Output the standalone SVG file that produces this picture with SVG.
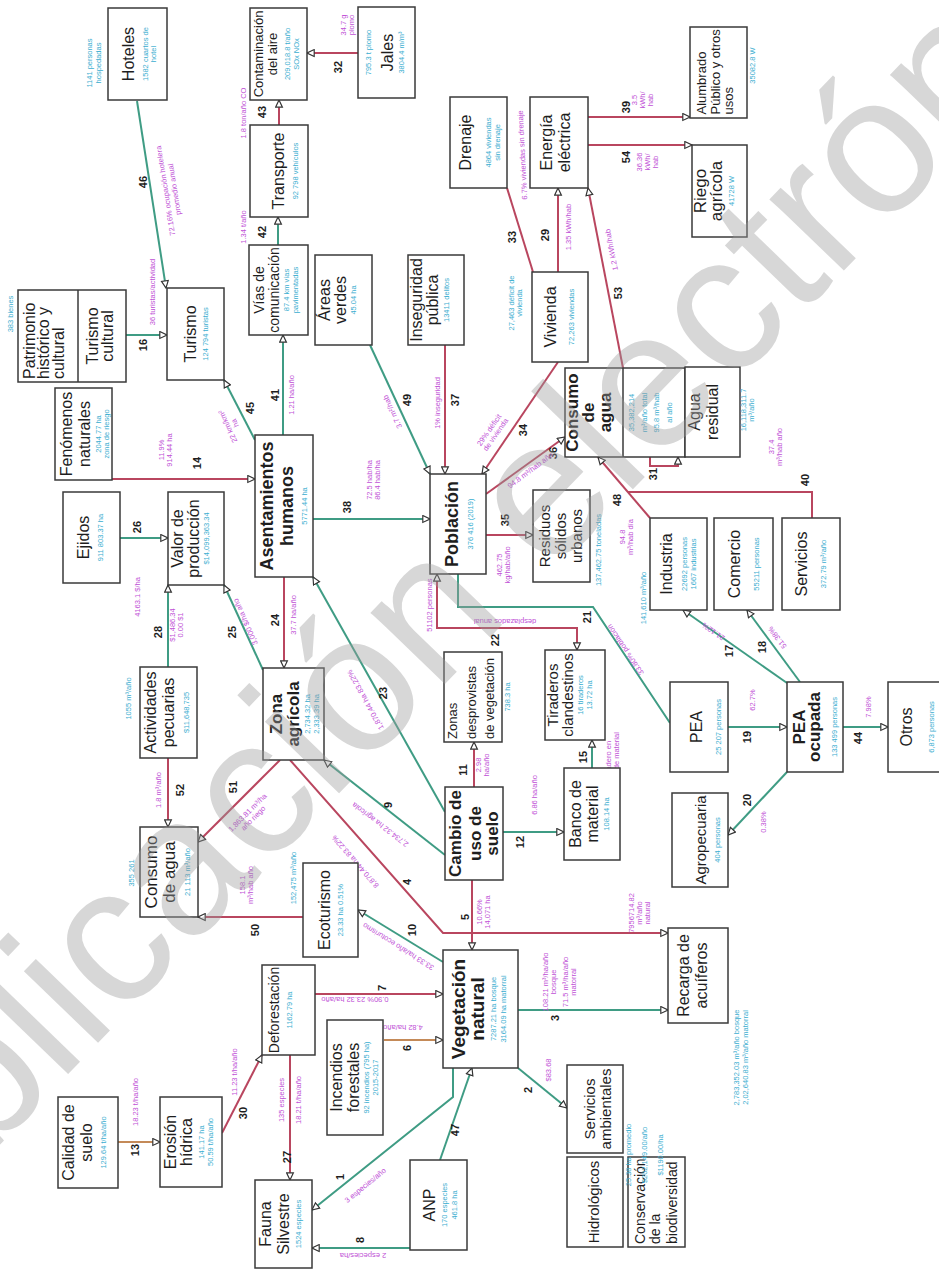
<svg xmlns="http://www.w3.org/2000/svg" width="939" height="1273" viewBox="0 0 939 1273">
<defs>
<style>
.bx{fill:#fff;stroke:#3a3a3a;stroke-width:1.5}
.dv{stroke:#3a3a3a;stroke-width:1.5}
text{font-family:"Liberation Sans",Arial,sans-serif}
.t{font-size:16px;fill:#1e1e1e;text-anchor:middle}
.t14{font-size:14px;fill:#1e1e1e;text-anchor:middle}
.t13{font-size:13px;fill:#1e1e1e;text-anchor:middle}
.tb{font-size:17px;font-weight:bold;fill:#1e1e1e;text-anchor:middle}
.st{text-anchor:start}
.c{font-size:7.5px;fill:#3aaed0;text-anchor:middle}
.m{font-size:7.5px;fill:#c050d6;text-anchor:middle}
.n{font-size:11px;font-weight:bold;fill:#1e1e1e;text-anchor:middle}
.g{stroke:#3f9c84;stroke-width:2;fill:none}
.r{stroke:#b9465f;stroke-width:2;fill:none}
.o{stroke:#c48a58;stroke-width:2;fill:none}
.wm{font-size:195px;fill:#9c9c9c;opacity:0.4}
</style>
<marker id="ah" viewBox="0 0 10 10" refX="9" refY="5" markerWidth="9" markerHeight="9" markerUnits="userSpaceOnUse" orient="auto-start-reverse">
<path d="M1,1.2 L9,5 L1,8.8 z" fill="#fff" stroke="#333" stroke-width="1.3"/>
</marker>
</defs>
<rect width="939" height="1273" fill="#fff"/>

<g id="connectors" marker-end="url(#ah)">
<line class="g" x1="137" y1="101" x2="166" y2="288"/>
<line class="r" x1="279" y1="125" x2="279" y2="100"/>
<line class="g" x1="278" y1="245" x2="278" y2="217"/>
<line class="r" x1="358" y1="53" x2="307" y2="53"/>
<line class="g" x1="126" y1="335" x2="167" y2="335"/>
<line class="r" x1="112" y1="479" x2="255" y2="479"/>
<line class="g" x1="255" y1="440" x2="224" y2="380"/>
<line class="g" x1="283" y1="435" x2="283" y2="335"/>
<line class="g" x1="120" y1="538" x2="168" y2="538"/>
<line class="g" x1="168" y1="667" x2="168" y2="585"/>
<line class="g" x1="263" y1="670" x2="224" y2="585"/>
<line class="r" x1="284" y1="577" x2="284" y2="668"/>
<line class="r" x1="168" y1="758" x2="168" y2="827"/>
<line class="r" x1="280" y1="760" x2="198" y2="842"/>
<line class="r" x1="303" y1="917" x2="198" y2="917"/>
<line class="g" x1="443" y1="962" x2="358" y2="910"/>
<line class="g" x1="445" y1="855" x2="324" y2="760"/>
<line class="g" x1="445" y1="812" x2="313" y2="577"/>
<polyline class="r" points="290,760 443,933 668,933"/>
<line class="r" x1="472" y1="880" x2="472" y2="950"/>
<line class="r" x1="474" y1="787" x2="474" y2="742"/>
<line class="g" x1="503" y1="832" x2="564" y2="832"/>
<line class="g" x1="592" y1="768" x2="592" y2="740"/>
<polyline class="r" points="577,650 577,628 437,628 437,574" marker-start="url(#ah)"/>
<polyline class="g" points="458,574 458,607 593,607 670,723" marker-end="none"/>
<line class="g" x1="313" y1="519" x2="430" y2="519"/>
<line class="g" x1="370" y1="345" x2="430" y2="474"/>
<line class="r" x1="445" y1="345" x2="445" y2="474"/>
<line class="r" x1="558" y1="362" x2="482" y2="474"/>
<line class="r" x1="486" y1="494" x2="565" y2="437"/>
<line class="r" x1="486" y1="535" x2="533" y2="535"/>
<line class="r" x1="650" y1="518" x2="598" y2="457"/>
<polyline class="r" points="812,518 812,492 628,492" marker-end="none"/>
<polyline class="r" points="650,457 650,466 678,466 678,457"/>
<line class="r" x1="623" y1="368" x2="588" y2="188"/>
<line class="r" x1="507" y1="188" x2="533" y2="272" marker-end="none"/>
<line class="r" x1="558" y1="272" x2="558" y2="188"/>
<line class="r" x1="588" y1="117" x2="690" y2="117"/>
<line class="r" x1="588" y1="145" x2="692" y2="145"/>
<line class="g" x1="787" y1="772" x2="728" y2="835"/>
<line class="g" x1="728" y1="727" x2="787" y2="727"/>
<line class="g" x1="843" y1="727" x2="888" y2="727"/>
<line class="g" x1="787" y1="683" x2="683" y2="610"/>
<line class="g" x1="800" y1="682" x2="747" y2="610"/>
<line class="g" x1="518" y1="1010" x2="668" y2="1010"/>
<line class="g" x1="518" y1="1068" x2="567" y2="1108"/>
<line class="r" x1="315" y1="994" x2="443" y2="994"/>
<line class="o" x1="384" y1="1040" x2="443" y2="1040"/>
<polyline class="g" points="453,1068 453,1097 312,1210"/>
<line class="g" x1="440" y1="1160" x2="472" y2="1068"/>
<line class="g" x1="410" y1="1248" x2="312" y2="1248"/>
<line class="o" x1="118" y1="1142" x2="160" y2="1142"/>
<line class="r" x1="222" y1="1133" x2="262" y2="1055"/>
<line class="r" x1="290" y1="1055" x2="290" y2="1180"/>
</g>

<g id="connector-labels">
<text class="n" transform="translate(143,182) rotate(-90)" y="4">46</text>
<text class="n" transform="translate(262,112) rotate(-90)" y="4">43</text>
<text class="n" transform="translate(262,232) rotate(-90)" y="4">42</text>
<text class="n" transform="translate(338,67) rotate(-90)" y="4">32</text>
<text class="n" transform="translate(143,345) rotate(-90)" y="4">16</text>
<text class="n" transform="translate(197,463) rotate(-90)" y="4">14</text>
<text class="n" transform="translate(250,408) rotate(-90)" y="4">45</text>
<text class="n" transform="translate(275,395) rotate(-90)" y="4">41</text>
<text class="n" transform="translate(137,527) rotate(-90)" y="4">26</text>
<text class="n" transform="translate(158,632) rotate(-90)" y="4">28</text>
<text class="n" transform="translate(232,632) rotate(-90)" y="4">25</text>
<text class="n" transform="translate(275,620) rotate(-90)" y="4">24</text>
<text class="n" transform="translate(180,790) rotate(-90)" y="4">52</text>
<text class="n" transform="translate(233,787) rotate(-90)" y="4">51</text>
<text class="n" transform="translate(255,930) rotate(-90)" y="4">50</text>
<text class="n" transform="translate(412,930) rotate(-90)" y="4">10</text>
<text class="n" transform="translate(388,805) rotate(-90)" y="4">9</text>
<text class="n" transform="translate(383,693) rotate(-90)" y="4">23</text>
<text class="n" transform="translate(407,882) rotate(-90)" y="4">4</text>
<text class="n" transform="translate(465,917) rotate(-90)" y="4">5</text>
<text class="n" transform="translate(463,770) rotate(-90)" y="4">11</text>
<text class="n" transform="translate(520,842) rotate(-90)" y="4">12</text>
<text class="n" transform="translate(583,757) rotate(-90)" y="4">15</text>
<text class="n" transform="translate(495,640) rotate(-90)" y="4">22</text>
<text class="n" transform="translate(587,617) rotate(-90)" y="4">21</text>
<text class="n" transform="translate(347,507) rotate(-90)" y="4">38</text>
<text class="n" transform="translate(407,400) rotate(-90)" y="4">49</text>
<text class="n" transform="translate(455,400) rotate(-90)" y="4">37</text>
<text class="n" transform="translate(523,430) rotate(-90)" y="4">34</text>
<text class="n" transform="translate(553,453) rotate(-90)" y="4">36</text>
<text class="n" transform="translate(505,520) rotate(-90)" y="4">35</text>
<text class="n" transform="translate(617,500) rotate(-90)" y="4">48</text>
<text class="n" transform="translate(653,474) rotate(-90)" y="4">31</text>
<text class="n" transform="translate(805,480) rotate(-90)" y="4">40</text>
<text class="n" transform="translate(512,237) rotate(-90)" y="4">33</text>
<text class="n" transform="translate(545,235) rotate(-90)" y="4">29</text>
<text class="n" transform="translate(618,293) rotate(-90)" y="4">53</text>
<text class="n" transform="translate(626,107) rotate(-90)" y="4">39</text>
<text class="n" transform="translate(626,157) rotate(-90)" y="4">54</text>
<text class="n" transform="translate(747,737) rotate(-90)" y="4">19</text>
<text class="n" transform="translate(858,738) rotate(-90)" y="4">44</text>
<text class="n" transform="translate(747,800) rotate(-90)" y="4">20</text>
<text class="n" transform="translate(729,651) rotate(-90)" y="4">17</text>
<text class="n" transform="translate(762,647) rotate(-90)" y="4">18</text>
<text class="n" transform="translate(555,1018) rotate(-90)" y="4">3</text>
<text class="n" transform="translate(528,1090) rotate(-90)" y="4">2</text>
<text class="n" transform="translate(382,988) rotate(-90)" y="4">7</text>
<text class="n" transform="translate(407,1048) rotate(-90)" y="4">6</text>
<text class="n" transform="translate(340,1177) rotate(-90)" y="4">1</text>
<text class="n" transform="translate(455,1130) rotate(-90)" y="4">47</text>
<text class="n" transform="translate(360,1240) rotate(-90)" y="4">8</text>
<text class="n" transform="translate(135,1150) rotate(-90)" y="4">13</text>
<text class="n" transform="translate(243,1113) rotate(-90)" y="4">30</text>
<text class="n" transform="translate(287,1157) rotate(-90)" y="4">27</text>

<text class="m" transform="translate(170,190) rotate(-99)"><tspan x="0" y="-2">72.16% ocupación hotelera</tspan><tspan x="0" y="7">promedio anual</tspan></text>
<text class="m" transform="translate(152,292) rotate(-90)" y="3">36 turistas/actividad</text>
<text class="m" transform="translate(243,113) rotate(-90)" y="3">1.8 ton/año CO</text>
<text class="m" transform="translate(243,227) rotate(-90)" y="3">1.34 t/año</text>
<text class="m" transform="translate(347,25) rotate(-90)"><tspan x="0" y="-1">34.7 g</tspan><tspan x="0" y="7">plomo</tspan></text>
<text class="m" transform="translate(165,450) rotate(-90)"><tspan x="0" y="-1">11.9%</tspan><tspan x="0" y="7">914.44 ha</tspan></text>
<text class="m" transform="translate(231,425) rotate(-115)"><tspan x="0" y="-1">22 km/km²</tspan><tspan x="0" y="7">ha</tspan></text>
<text class="m" transform="translate(291,395) rotate(-90)" y="3">1.21 ha/año</text>
<text class="m" transform="translate(137,597) rotate(-90)" y="3">4163.1 $/ha</text>
<text class="m" transform="translate(176,625) rotate(-90)"><tspan x="0" y="-1">$1,486.34</tspan><tspan x="0" y="7">0.00 $1</tspan></text>
<text class="m" transform="translate(245,622) rotate(-114)" y="3">3,000 $/ha año</text>
<text class="m" transform="translate(293,615) rotate(-90)" y="3">37.7 ha/año</text>
<text class="m" transform="translate(158,790) rotate(-90)" y="3">1.8 m³/año</text>
<text class="m" transform="translate(250,815) rotate(-45)"><tspan x="0" y="-1">1,863.81 m³/ha</tspan><tspan x="0" y="7">año riego</tspan></text>
<text class="c" transform="translate(293,878) rotate(-90)" y="3">152,475 m³/año</text>
<text class="m" transform="translate(246,885) rotate(-90)"><tspan x="0" y="-1">158.1</tspan><tspan x="0" y="7">m³/hab año</tspan></text>
<text class="m" transform="translate(398,947) rotate(-148)" y="3">33.33 ha/año ecoturismo</text>
<text class="m" transform="translate(380,825) rotate(-143)" y="3">2,734.32 ha agrícola</text>
<text class="m" transform="translate(365,700) rotate(-119)" y="3">1,870.44 ha 83.22%</text>
<text class="m" transform="translate(355,862) rotate(-131)" y="3">8,870.44 ha 83.22%</text>
<text class="m" transform="translate(483,912) rotate(-90)"><tspan x="0" y="-1">10.66%</tspan><tspan x="0" y="7">14,071 ha</tspan></text>
<text class="m" transform="translate(482,765) rotate(-90)"><tspan x="0" y="-1">2.98</tspan><tspan x="0" y="7">ha/año</tspan></text>
<text class="m" transform="translate(534,795) rotate(-90)" y="3">6.86 ha/año</text>
<text class="m" transform="translate(612,762) rotate(-90)"><tspan x="0" y="-1">1 tiradero en</tspan><tspan x="0" y="7">banco de material</tspan></text>
<text class="m" transform="translate(429,605) rotate(-90)" y="3">51102 personas</text>
<text class="m" transform="translate(505,622) rotate(180)" y="3">desplazados anual</text>
<text class="m" transform="translate(625,650) rotate(-124)" y="3">33.80% población</text>
<text class="m" transform="translate(373,480) rotate(-90)"><tspan x="0" y="-1">72.5 hab/ha</tspan><tspan x="0" y="7">86.4 hab/ha</tspan></text>
<text class="m" transform="translate(392,412) rotate(-115)" y="3">3.7 m²/hab</text>
<text class="m" transform="translate(437,403) rotate(-90)" y="3">1% inseguridad</text>
<text class="m" transform="translate(492,432) rotate(-55)"><tspan x="0" y="-1">29% déficit</tspan><tspan x="0" y="7">de vivienda</tspan></text>
<text class="m" transform="translate(530,470) rotate(-37)" y="3">94.8 m³/hab año</text>
<text class="m" transform="translate(503,565) rotate(-90)"><tspan x="0" y="-1">462.75</tspan><tspan x="0" y="7">kg/hab/año</tspan></text>
<text class="m" transform="translate(626,537) rotate(-90)"><tspan x="0" y="-1">94.8</tspan><tspan x="0" y="7">m³/hab día</tspan></text>
<text class="m" transform="translate(775,447) rotate(-90)"><tspan x="0" y="-1">37.4</tspan><tspan x="0" y="7">m³/hab año</tspan></text>
<text class="m" transform="translate(522,155) rotate(-93)" y="3">6.7% viviendas sin drenaje</text>
<text class="m" transform="translate(568,227) rotate(-90)" y="3">1.35 kWh/hab</text>
<text class="m" transform="translate(611,250) rotate(-101)" y="3">1.2 kWh/hab</text>
<text class="m" transform="translate(643,100) rotate(-90)"><tspan x="0" y="-6">3.5</tspan><tspan x="0" y="2">kWh/</tspan><tspan x="0" y="10">hab</tspan></text>
<text class="m" transform="translate(648,162) rotate(-90)"><tspan x="0" y="-6">36.36</tspan><tspan x="0" y="2">kWh/</tspan><tspan x="0" y="10">hab</tspan></text>
<text class="m" transform="translate(752,700) rotate(-90)" y="3">62.7%</text>
<text class="m" transform="translate(868,707) rotate(-90)" y="3">7.98%</text>
<text class="m" transform="translate(763,822) rotate(-90)" y="3">0.38%</text>
<text class="m" transform="translate(713,632) rotate(-145)" y="3">21.12%</text>
<text class="m" transform="translate(777,638) rotate(-127)" y="3">51.38%</text>
<text class="m" transform="translate(562,982) rotate(-90)"><tspan x="0" y="-14">108.21 m³/ha/año</tspan><tspan x="0" y="-6">bosque</tspan><tspan x="0" y="6">71.5 m³/ha/año</tspan><tspan x="0" y="14">matorral</tspan></text>
<text class="m" transform="translate(548,1070) rotate(-90)" y="3">$83.68</text>
<text class="m" transform="translate(355,1000) rotate(180)" y="3">0.90% 23.32 ha/año</text>
<text class="m" transform="translate(403,1028) rotate(180)" y="3">4.82 ha/año</text>
<text class="m" transform="translate(365,1185) rotate(-39)" y="3">3 especies/año</text>
<text class="m" transform="translate(363,1256) rotate(180)" y="3">2 especies/ha</text>
<text class="m" transform="translate(281,1100) rotate(-90)" y="3">135 especies</text>
<text class="m" transform="translate(298,1100) rotate(-90)" y="3">18.21 t/ha/año</text>
<text class="m" transform="translate(234,1072) rotate(-90)" y="3">11.23 t/ha/año</text>
<text class="m" transform="translate(135,1102) rotate(-90)" y="3">18.23 t/ha/año</text>
<text class="m" transform="translate(643,913) rotate(-90)"><tspan x="0" y="-9">7956714.82</tspan><tspan x="0" y="-1">m³/año</tspan><tspan x="0" y="7">natural</tspan></text>
</g>

<g id="n-hoteles" transform="translate(137.5,54) rotate(-90)">
<rect class="bx" x="-46" y="-29.5" width="92" height="59"/>
<text class="t" y="-4">Hoteles</text>
<text class="c" y="10">1582 cuartos de</text>
<text class="c" y="18">hotel</text>
<text class="c" x="-9" y="-46">1141 personas</text>
<text class="c" x="-9" y="-37">hospedadas</text>
</g>
<g id="n-contaminacion" transform="translate(278.5,54) rotate(-90)">
<rect class="bx" x="-46" y="-28.5" width="92" height="57"/>
<text class="t13" y="-16">Contaminación</text>
<text class="t13" y="-2">del aire</text>
<text class="c" y="11">209,018.8 t/año</text>
<text class="c" y="20">SOx NOx</text>
</g>
<g id="n-transporte" transform="translate(279,171) rotate(-90)">
<rect class="bx" x="-46" y="-29" width="92" height="58"/>
<text class="t" y="5">Transporte</text>
<text class="c" y="19">92 798 vehículos</text>
</g>
<g id="n-vias" transform="translate(278.5,290) rotate(-90)">
<rect class="bx" x="-45" y="-29.5" width="90" height="59"/>
<text class="t14" y="-15">Vías de</text>
<text class="t14" y="0">comunicación</text>
<text class="c" y="10">87.4 km vías</text>
<text class="c" y="19">pavimentadas</text>
</g>
<g id="n-jales" transform="translate(386.5,52.5) rotate(-90)">
<rect class="bx" x="-45.5" y="-28.5" width="91" height="57"/>
<text class="c" y="-16">795.3 t plomo</text>
<text class="t" y="6">Jales</text>
<text class="c" y="17">3804.4 m/m³</text>
</g>
<g id="n-turismo" transform="translate(195.5,334) rotate(-90)">
<rect class="bx" x="-46" y="-28.5" width="92" height="57"/>
<text class="t" y="0">Turismo</text>
<text class="c" y="12">124 794 turistas</text>
</g>
<g id="n-patrimonio" transform="translate(72,336) rotate(-90)">
<rect class="bx" x="-46" y="-54" width="92" height="108"/>
<line class="dv" x1="-46" y1="6" x2="46" y2="6"/>
<text class="t st" x="-43" y="-37">Patrimonio</text>
<text class="t st" x="-43" y="-23">histórico y</text>
<text class="t st" x="-43" y="-8">cultural</text>
<text class="t" y="26">Turismo</text>
<text class="t" y="41">cultural</text>
<text class="c" x="22" y="-59">383 bienes</text>
</g>
<g id="n-fenomenos" transform="translate(83.5,434) rotate(-90)">
<rect class="bx" x="-46" y="-28.5" width="92" height="57"/>
<text class="t" y="-12">Fenómenos</text>
<text class="t" y="6">naturales</text>
<text class="c" y="17">2044.77 ha</text>
<text class="c" y="25">zona de riesgo</text>
</g>
<g id="n-asentamientos" transform="translate(284,506) rotate(-90)">
<rect class="bx" x="-71" y="-29" width="142" height="58"/>
<text class="tb" style="font-size:18px" y="-11">Asentamientos</text>
<text class="tb" style="font-size:18px" y="9">humanos</text>
<text class="c" y="23">5771.44 ha</text>
</g>
<g id="n-ejidos" transform="translate(91.5,537.5) rotate(-90)">
<rect class="bx" x="-45.5" y="-28.5" width="91" height="57"/>
<text class="t" y="-3">Ejidos</text>
<text class="c" y="11">911 803.37 ha</text>
</g>
<g id="n-valor" transform="translate(196,538.5) rotate(-90)">
<rect class="bx" x="-46.5" y="-28" width="93" height="56"/>
<text class="t" y="-13">Valor de</text>
<text class="t" y="3">producción</text>
<text class="c" y="13">$14,099,363.34</text>
</g>
<g id="n-actividades" transform="translate(168.5,712.5) rotate(-90)">
<rect class="bx" x="-45.5" y="-28.5" width="91" height="57"/>
<text class="t" y="-13">Actividades</text>
<text class="t" y="5">pecuarias</text>
<text class="c" y="20">$11,648,735</text>
<text class="c" x="14" y="-38">1055 m³/año</text>
</g>
<g id="n-zona-agricola" transform="translate(293.5,714) rotate(-90)">
<rect class="bx" x="-46" y="-30.5" width="92" height="61"/>
<text class="tb" y="-12">Zona</text>
<text class="tb" y="5">agrícola</text>
<text class="c" y="16">2,734.32 ha</text>
<text class="c" y="25">2,333.39 ha</text>
</g>
<g id="n-consumo-agua-1" transform="translate(169,872) rotate(-90)">
<rect class="bx" x="-45" y="-29" width="90" height="58"/>
<text class="t" style="font-size:17px" y="-12">Consumo</text>
<text class="t" style="font-size:17px" y="6">de agua</text>
<text class="c" y="21">21 113 m³/año</text>
<text class="c" x="-1" y="-35">355 261</text>
</g>
<g id="n-ecoturismo" transform="translate(330.5,910) rotate(-90)">
<rect class="bx" x="-47" y="-27.5" width="94" height="55"/>
<text class="t" y="-1">Ecoturismo</text>
<text class="c" y="12">23.33 ha 0.51%</text>
</g>
<g id="n-cambio" transform="translate(474,833.5) rotate(-90)">
<rect class="bx" x="-46.5" y="-29" width="93" height="58"/>
<text class="tb" y="-13">Cambio de</text>
<text class="tb" y="7">uso de</text>
<text class="tb" y="24">suelo</text>
</g>
<g id="n-zonas-desprovistas" transform="translate(473,697) rotate(-90)">
<rect class="bx" x="-45" y="-29" width="90" height="58"/>
<text class="t13 st" x="-42" y="-16">Zonas</text>
<text class="t13 st" x="-42" y="3">desprovistas</text>
<text class="t13 st" x="-42" y="21">de vegetación</text>
<text class="c" y="37">738.3 ha</text>
</g>
<g id="n-tiraderos" transform="translate(575,695) rotate(-90)">
<rect class="bx" x="-45" y="-30" width="90" height="60"/>
<text class="t" style="font-size:15px" y="-17">Tiraderos</text>
<text class="t" style="font-size:15px" y="-2">clandestinos</text>
<text class="c" y="8">16 tiraderos</text>
<text class="c" y="17">13.72 ha</text>
</g>
<g id="n-banco" transform="translate(592,814) rotate(-90)">
<rect class="bx" x="-46" y="-28" width="92" height="56"/>
<text class="t" y="-11">Banco de</text>
<text class="t" y="6">material</text>
<text class="c" y="17">108.14 ha</text>
</g>
<g id="n-poblacion" transform="translate(458,524) rotate(-90)">
<rect class="bx" x="-50" y="-28" width="100" height="56"/>
<text class="tb" style="font-size:18px" y="0">Población</text>
<text class="c" y="15">376 416 (2019)</text>
</g>
<g id="n-areas-verdes" transform="translate(343.5,300) rotate(-90)">
<rect class="bx" x="-45" y="-28.5" width="90" height="57"/>
<text class="t" y="-14">Áreas</text>
<text class="t" y="2">verdes</text>
<text class="c" y="12">45.04 ha</text>
</g>
<g id="n-inseguridad" transform="translate(436,300) rotate(-90)">
<rect class="bx" x="-45" y="-28" width="90" height="56"/>
<text class="t" y="-14">Inseguridad</text>
<text class="t" y="2">pública</text>
<text class="c" y="13">13411 delitos</text>
</g>
<g id="n-vivienda" transform="translate(560,317) rotate(-90)">
<rect class="bx" x="-45" y="-28" width="90" height="56"/>
<text class="t" y="-4">Vivienda</text>
<text class="c" y="14">72,263 viviendas</text>
<text class="c" x="14" y="-46">27,463 déficit de</text>
<text class="c" x="14" y="-38">vivienda</text>
</g>
<g id="n-drenaje" transform="translate(478.5,142.5) rotate(-90)">
<rect class="bx" x="-45.5" y="-28.5" width="91" height="57"/>
<text class="t" y="-8">Drenaje</text>
<text class="c" y="12">4864 viviendas</text>
<text class="c" y="21">sin drenaje</text>
</g>
<g id="n-energia" transform="translate(559,142.5) rotate(-90)">
<rect class="bx" x="-45.5" y="-29" width="91" height="58"/>
<text class="t" y="-7">Energía</text>
<text class="t" y="11">eléctrica</text>
</g>
<g id="n-alumbrado" transform="translate(718.5,72.5) rotate(-90)">
<rect class="bx" x="-45.5" y="-28.5" width="91" height="57"/>
<text class="t13 st" x="-42" y="-13">Alumbrado</text>
<text class="t13 st" x="-42" y="1">Público y otros</text>
<text class="t13 st" x="-42" y="14">usos</text>
<text class="c" x="7" y="36">35082.8 W</text>
</g>
<g id="n-riego" transform="translate(719.5,191) rotate(-90)">
<rect class="bx" x="-46" y="-27.5" width="92" height="55"/>
<text class="t" style="font-size:17px" y="-14">Riego</text>
<text class="t" style="font-size:17px" y="2">agrícola</text>
<text class="c" y="14">41728 W</text>
</g>
<g id="n-consumo-agua-2" transform="translate(625,412.5) rotate(-90)">
<rect class="bx" x="-44.5" y="-60" width="89" height="120"/>
<line class="dv" x1="-44.5" y1="-2" x2="44.5" y2="-2"/>
<text class="tb" y="-47">Consumo</text>
<text class="tb" y="-31">de</text>
<text class="tb" y="-14">agua</text>
<text class="c" y="9">35,382,214</text>
<text class="c" y="22">m³/año total</text>
<text class="c" y="34">95.8 m³/hab</text>
<text class="c" y="47">al año</text>
</g>
<g id="n-agua-residual" transform="translate(712.5,412) rotate(-90)">
<rect class="bx" x="-45" y="-27.5" width="90" height="55"/>
<text class="t" y="-13">Agua</text>
<text class="t" y="5">residual</text>
<text class="c" x="2" y="33">16,118,311.7</text>
<text class="c" x="2" y="41">m³/año</text>
</g>
<g id="n-industria" transform="translate(678.5,564) rotate(-90)">
<rect class="bx" x="-46" y="-28.5" width="92" height="57"/>
<text class="t" y="-7">Industria</text>
<text class="c" y="8">22692 personas</text>
<text class="c" y="17">1667 industrias</text>
<text class="c" x="-34" y="-33">141,610 m³/año</text>
</g>
<g id="n-comercio" transform="translate(743.5,564) rotate(-90)">
<rect class="bx" x="-46" y="-29.5" width="92" height="59"/>
<text class="t" y="-4">Comercio</text>
<text class="c" y="15">55211 personas</text>
</g>
<g id="n-servicios" transform="translate(811,564) rotate(-90)">
<rect class="bx" x="-46" y="-29" width="92" height="58"/>
<text class="t" y="-4">Servicios</text>
<text class="c" y="15">372.79 m³/año</text>
</g>
<g id="n-residuos" transform="translate(561.5,536) rotate(-90)">
<rect class="bx" x="-46" y="-28.5" width="92" height="57"/>
<text class="t" style="font-size:15px" y="-12">Residuos</text>
<text class="t" style="font-size:15px" y="4">sólidos</text>
<text class="t" style="font-size:15px" y="20">urbanos</text>
<text class="c" x="-14" y="39">137,462.75 toneladas</text>
</g>
<g id="n-pea" transform="translate(699,727) rotate(-90)">
<rect class="bx" x="-45" y="-29" width="90" height="58"/>
<text class="t" y="3">PEA</text>
<text class="c" y="22">25 207 personas</text>
</g>
<g id="n-pea-ocupada" transform="translate(815,727) rotate(-90)">
<rect class="bx" x="-45" y="-28" width="90" height="56"/>
<text class="tb" y="-10">PEA</text>
<text class="tb" y="5">ocupada</text>
<text class="c" y="22">133 499 personas</text>
</g>
<g id="n-otros" transform="translate(916,727) rotate(-90)">
<rect class="bx" x="-45" y="-28" width="90" height="56"/>
<text class="t" y="-4">Otros</text>
<text class="c" y="18">6,873 personas</text>
</g>
<g id="n-agropecuaria" transform="translate(700,840) rotate(-90)">
<rect class="bx" x="-47" y="-28" width="94" height="56"/>
<text class="t" style="font-size:15px" y="6">Agropecuaria</text>
<text class="c" y="20">404 personas</text>
</g>
<g id="n-recarga" transform="translate(698,975.5) rotate(-90)">
<rect class="bx" x="-47.5" y="-30" width="95" height="60"/>
<text class="t" y="-9">Recarga de</text>
<text class="t" y="9">acuíferos</text>
<text class="c st" x="-82" y="41">2,783,352.03 m³/año bosque</text>
<text class="c st" x="-82" y="50">2,02,640.83 m³/año matorral</text>
</g>
<g id="n-vegetacion" transform="translate(480.5,1009) rotate(-90)">
<rect class="bx" x="-59" y="-37.5" width="118" height="75"/>
<text class="tb" style="font-size:19px" y="-16">Vegetación</text>
<text class="tb" style="font-size:19px" y="3">natural</text>
<text class="c" y="15">7287.21 ha bosque</text>
<text class="c" y="25">3164.09 ha matorral</text>
</g>
<g id="n-deforestacion" transform="translate(288.5,1010) rotate(-90)">
<rect class="bx" x="-45" y="-26.5" width="90" height="53"/>
<text class="t14" y="-10">Deforestación</text>
<text class="c" y="3">1162.79 ha</text>
</g>
<g id="n-incendios" transform="translate(355,1077.5) rotate(-90)">
<rect class="bx" x="-57.5" y="-28" width="115" height="56"/>
<text class="t" y="-13">Incendios</text>
<text class="t" y="4">forestales</text>
<text class="c" y="14">92 incendios (795 ha)</text>
<text class="c" y="23">2015-2017</text>
</g>
<g id="n-erosion" transform="translate(191,1142) rotate(-90)">
<rect class="bx" x="-45" y="-31" width="90" height="62"/>
<text class="t" y="-15">Erosión</text>
<text class="t" y="1">hídrica</text>
<text class="c" y="13">141.17 ha</text>
<text class="c" y="22">50.59 t/ha/año</text>
</g>
<g id="n-calidad" transform="translate(88,1142.5) rotate(-90)">
<rect class="bx" x="-45.5" y="-30" width="91" height="60"/>
<text class="t" y="-14">Calidad de</text>
<text class="t" y="4">suelo</text>
<text class="c" y="18">129.64 t/ha/año</text>
</g>
<g id="n-fauna" transform="translate(283.5,1224) rotate(-90)">
<rect class="bx" x="-44" y="-28.5" width="88" height="57"/>
<text class="t" y="-13">Fauna</text>
<text class="t" y="5">Silvestre</text>
<text class="c" y="17">1524 especies</text>
</g>
<g id="n-anp" transform="translate(438.5,1205) rotate(-90)">
<rect class="bx" x="-45" y="-28.5" width="90" height="57"/>
<text class="t" y="-4">ANP</text>
<text class="c" y="8.5">170 especies</text>
<text class="c" y="18.5">461.8 ha</text>
</g>
<g id="n-servicios-ambientales" transform="translate(595,1109) rotate(-90)">
<rect class="bx" x="-44" y="-28" width="88" height="56"/>
<text class="t" style="font-size:15px" y="0">Servicios</text>
<text class="t" style="font-size:15px" y="16">ambientales</text>
</g>
<g id="n-hidrologicos" transform="translate(595,1202) rotate(-90)">
<rect class="bx" x="-45" y="-28" width="90" height="56"/>
<text class="t" style="font-size:15px" y="4">Hidrológicos</text>
</g>
<g id="n-conservacion" transform="translate(656.5,1202) rotate(-90)">
<rect class="bx" x="-45" y="-28.5" width="90" height="57"/>
<text class="t14 st" x="-42" y="-12">Conservación</text>
<text class="t14 st" x="-42" y="3">de la</text>
<text class="t14 st" x="-42" y="20">biodiversidad</text>
<text class="c st" x="47" y="-26">25.38 ha promedio</text>
<text class="c st" x="47" y="-10">$202,149.00/año</text>
<text class="c st" x="47" y="6">$1190.00/ha</text>
</g>

<text class="wm" transform="translate(-182,1333) rotate(-46)">Publicación electrónica</text>
</svg>
